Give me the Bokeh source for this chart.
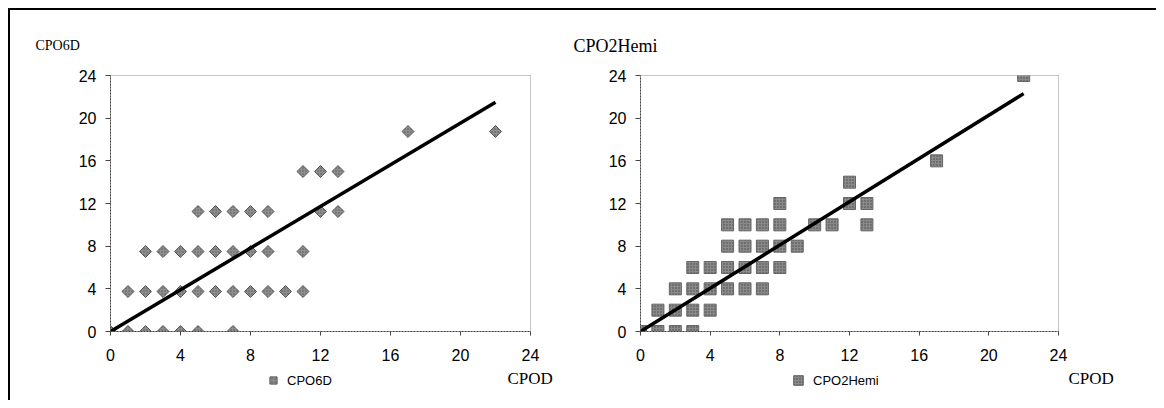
import numpy as np
from bokeh.plotting import figure
from bokeh.layouts import row, column
from bokeh.models import Legend, LegendItem, FixedTicker, Range1d, Title, Label
from bokeh.embed import file_html
from bokeh.resources import INLINE

# ---- data ----
tick_values = [0, 4, 8, 12, 16, 20, 24]
x_title = "CPOD"

cpo6d_name = "CPO6D"
cpo6d_x = [0, 1, 2, 3, 4, 5, 7,
           1, 2, 3, 4, 5, 6, 7, 8, 9, 10, 11,
           2, 3, 4, 5, 6, 7, 8, 9, 11,
           5, 6, 7, 8, 9, 12, 13,
           11, 12, 13,
           17, 22]
cpo6d_y = [0, 0, 0, 0, 0, 0, 0,
           3.75, 3.75, 3.75, 3.75, 3.75, 3.75, 3.75, 3.75, 3.75, 3.75, 3.75,
           7.5, 7.5, 7.5, 7.5, 7.5, 7.5, 7.5, 7.5, 7.5,
           11.25, 11.25, 11.25, 11.25, 11.25, 11.25, 11.25,
           15, 15, 15,
           18.75, 18.75]
cpo6d_trend_x = [0, 22]
cpo6d_trend_y = [0.0, 21.5]

cpo2hemi_name = "CPO2Hemi"
cpo2hemi_x = [0, 1, 2, 3,
              1, 2, 3, 4,
              2, 3, 4, 5, 6, 7,
              3, 4, 5, 6, 7, 8,
              5, 6, 7, 8, 9,
              5, 6, 7, 8, 10, 11, 13,
              8, 12, 13,
              12,
              17,
              22]
cpo2hemi_y = [0, 0, 0, 0,
              2, 2, 2, 2,
              4, 4, 4, 4, 4, 4,
              6, 6, 6, 6, 6, 6,
              8, 8, 8, 8, 8,
              10, 10, 10, 10, 10, 10, 10,
              12, 12, 12,
              14,
              16,
              24]
cpo2hemi_trend_x = [0, 22]
cpo2hemi_trend_y = [0.0, 22.3]

SERIF = "Liberation Serif"
SANS = "Liberation Sans"

diamond_style = dict(marker="square", angle=np.pi / 4, size=8.5,
                     fill_color="#8e8e8e", line_color="#5a5a5a", line_width=1,
                     hatch_pattern="dot", hatch_color="#5a5a5a", hatch_scale=3, hatch_weight=1)
square_style = dict(marker="square", size=12,
                    fill_color="#8a8a8a", line_color="#666666", line_width=1,
                    hatch_pattern="dot", hatch_color="#444444", hatch_scale=3, hatch_weight=1)

STRIP_H = 33


def make_fig(ml, mr, fw):
    p = figure(frame_width=fw, frame_height=256,
               min_border_left=ml, min_border_right=mr,
               min_border_top=65, min_border_bottom=36,
               x_range=Range1d(0, 24), y_range=Range1d(0, 24),
               output_backend="svg", toolbar_location=None)
    p.grid.visible = False
    p.outline_line_color = "#8a8a8a"
    p.outline_line_dash = "1 1"
    p.background_fill_color = "white"
    p.border_fill_color = "white"
    for ax in (p.xaxis[0], p.yaxis[0]):
        ax.ticker = FixedTicker(ticks=tick_values)
        ax.major_label_text_font = SANS
        ax.major_label_text_font_size = "16px"
        ax.major_label_text_color = "black"
        ax.major_tick_in = 0
        ax.minor_tick_line_color = None
        ax.axis_line_color = "#444444"
        ax.axis_line_dash = "2 1"
        ax.major_tick_line_color = "#444444"
    p.xaxis.major_tick_out = 4
    p.xaxis.major_label_standoff = 13
    p.yaxis.major_tick_out = 5
    p.yaxis.major_label_standoff = 9
    return p


def make_strip(w):
    # legend strip below a chart; its key renderer's points lie outside its y range
    s = figure(frame_width=w, frame_height=STRIP_H, min_border=0,
               x_range=Range1d(0, 24), y_range=Range1d(100, 101),
               x_axis_type=None, y_axis_type=None,
               output_backend="svg", toolbar_location=None)
    s.grid.visible = False
    s.outline_line_color = None
    s.background_fill_color = "white"
    s.border_fill_color = "white"
    return s


def add_ytitle(p, ytxt, ysize, yoff, standoff):
    p.add_layout(Title(text=ytxt, align="left", offset=yoff, standoff=standoff,
                       text_font=SERIF, text_font_size=ysize, text_font_style="normal",
                       text_color="black"), "above")


def add_xtitle(s, x):
    s.add_layout(Label(x=x, y=22, x_units="screen", y_units="screen", text=x_title,
                       text_font=SERIF, text_font_size="17px", text_baseline="middle",
                       text_align="left", text_color="black"))


def add_legend(s, name, rend, loc, g, standoff):
    s.add_layout(Legend(items=[LegendItem(label=name, renderers=[rend])],
                        location=loc, orientation="horizontal",
                        glyph_width=g, glyph_height=g, label_standoff=standoff, label_height=20,
                        label_text_font=SANS, label_text_font_size="13px",
                        label_text_color="black",
                        padding=0, margin=0, border_line_alpha=0, background_fill_alpha=0))


# ---- left chart ----
p1 = make_fig(100, 30, 420)
p1.scatter(cpo6d_x, cpo6d_y, **diamond_style)
p1.line(cpo6d_trend_x, cpo6d_trend_y, line_color="black", line_width=3.5)
add_ytitle(p1, cpo6d_name, "14px", -75, 46)

s1 = make_strip(550)
k1 = s1.scatter(cpo6d_x, cpo6d_y, **diamond_style)
add_legend(s1, cpo6d_name, k1, (254, 10), 18, 5)
add_xtitle(s1, 397)

# ---- right chart ----
p2 = make_fig(80, 98, 418)
p2.scatter(cpo2hemi_x, cpo2hemi_y, **square_style)
p2.line(cpo2hemi_trend_x, cpo2hemi_trend_y, line_color="black", line_width=3.5)
add_ytitle(p2, cpo2hemi_name, "18px", -67, 39)

s2 = make_strip(596)
k2 = s2.scatter(cpo2hemi_x, cpo2hemi_y, **square_style)
add_legend(s2, cpo2hemi_name, k2, (226, 8), 24, 3)
add_xtitle(s2, 428)

layout = row(column(p1, s1), column(p2, s2),
             styles={"margin-left": "8px", "margin-top": "8px",
                     "border-top": "2px solid black", "border-left": "2px solid black"})

open("out.html", "w").write(file_html(layout, INLINE))
